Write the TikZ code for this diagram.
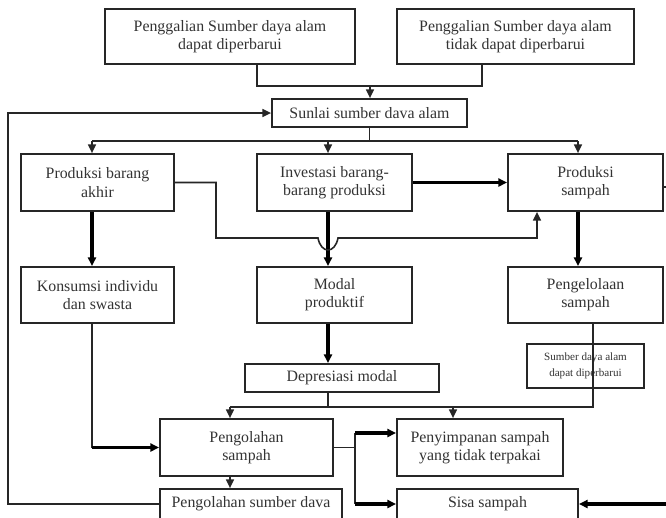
\documentclass[tikz,border=0pt]{standalone}
\usepackage{fontspec}
\setmainfont{Liberation Serif}
\usepackage{tikz}
\usetikzlibrary{arrows.meta}
\tikzset{>/.tip={Triangle[length=5.5pt,width=5pt]},
  box/.style 2 args={draw=black!85, line width=1.1pt, minimum width=#1*0.63pt,
    minimum height=#2*0.63pt, inner sep=0pt, align=center, text=black!80,
    font=\fontsize{10}{11.5}\selectfont},
  small/.style={font=\fontsize{7}{10}\selectfont},
  link/.style={draw=black!85, line width=1pt},
  heavy/.style={draw=black, line width=1.9pt}}

\begin{document}
\begin{tikzpicture}[x=0.63pt, y=-0.63pt]
\useasboundingbox (0,0) rectangle (666,517);
\node[box={250}{55}] (pa) at (230,36.5)  {Penggalian Sumber daya alam\\dapat diperbarui};
\node[box={237}{55}] (pb) at (515.5,36.5) {Penggalian Sumber daya alam\\tidak dapat diperbarui};
\node[box={195}{28}] (sup) at (369.5,113) {Sunlai sumber dava alam};
\node[box={153}{57}] (pba) at (97.5,182.5)  {Produksi barang\\akhir};
\node[box={155}{57}] (inv) at (334.5,182.5) {Investasi barang-\\barang produksi};
\node[box={155}{57}] (prs) at (585.5,182.5) {Produksi\\sampah};
\node[box={153}{56}] (kon) at (97.5,295)  {Konsumsi individu\\dan swasta};
\node[box={155}{56}] (mod) at (334.5,295) {Modal\\produktif};
\node[box={155}{56}] (pgl) at (585.5,295) {Pengelolaan\\sampah};
\node[box={117}{44}, small] (sda) at (585.5,366) {Sumber daya alam\\dapat diperbarui};
\node[box={194}{28}] (dep) at (342,378) {Depresiasi modal};
\node[box={173}{57}] (pos) at (246.5,447.5) {Pengolahan\\sampah};
\node[box={166}{57}] (pny) at (480,447.5) {Penyimpanan sampah\\yang tidak terpakai};
\node[box={182}{30}] (psd) at (251,504) {Pengolahan sumber dava};
\node[box={181}{30}] (sis) at (487.5,504) {Sisa sampah};

\coordinate (cL) at (92,0);
\coordinate (cM) at (328,0);
\coordinate (cR) at (578,0);
\coordinate (c5) at (230,0);
\coordinate (c6) at (453,0);
\coordinate (ja) at (257,86);
\coordinate (jb) at (482,86);
\coordinate (j1) at (370,86);
\coordinate (bus) at (370,141);
\coordinate (fb) at (8,113);
\coordinate (k1) at (216,238);
\coordinate (h1) at (318,238);
\coordinate (h2) at (338,238);
\coordinate (k2) at (537,238);
\coordinate (rr) at (672,187);
\coordinate (j3) at (328,407);
\coordinate (j4) at (593,407);
\coordinate (sq) at (355,433);

\draw[link] (ja |- pa.south) -- (ja) -- (jb) -- (jb |- pb.south);
\draw[link,->] (j1) -- (j1 |- sup.north);
\draw[link,->] (psd.west) -| (fb) -- (sup.west);
\draw[link] (sup.south) -- (sup.south |- bus);
\draw[link] (cL |- bus) -- (cR |- bus);
\foreach \c/\n in {cL/pba,cM/inv,cR/prs}
{
  \draw[link,->] (\c |- bus) -- (\c |- \n.north);
}
\draw[heavy,->] (cL |- pba.south) -- (cL |- kon.north);
\draw[heavy,->] (cM |- inv.south) -- (cM |- mod.north);
\draw[heavy,->] (cR |- prs.south) -- (cR |- pgl.north);
\draw[heavy,->] (inv.east) -- (prs.west);
\draw[link,->] (pba.east) -| (k1) -- (h1) .. controls +(3,16) and +(-3,16) .. (h2) -- (k2) -- (k2 |- prs.south);
\draw[link] (prs.east |- rr) -- (rr) -- (rr |- sis.east);
\draw[heavy,->] (rr |- sis.east) -- (sis.east);
\draw[heavy,->] (cM |- mod.south) -- (cM |- dep.north);
\draw[link] (cM |- dep.south) -- (j3);
\draw[link] (c5 |- j3) -- (j4) -- (j4 |- pgl.south);
\draw[link,->] (c5 |- j3) -- (c5 |- pos.north);
\draw[link,->] (c6 |- j3) -- (c6 |- pny.north);
\draw[link] (cL |- kon.south) -- (cL |- pos.west);
\draw[heavy,->] (cL |- pos.west) -- (pos.west);
\draw[link] (pos.east) -- (pos.east -| sq);
\draw[link] (sq) -- (sq |- sis.west);
\draw[heavy,->] (sq) -- (sq -| pny.west);
\draw[heavy,->] (sq |- sis.west) -- (sis.west);
\draw[link,->] (c5 |- pos.south) -- (c5 |- psd.north);
\end{tikzpicture}
\end{document}
